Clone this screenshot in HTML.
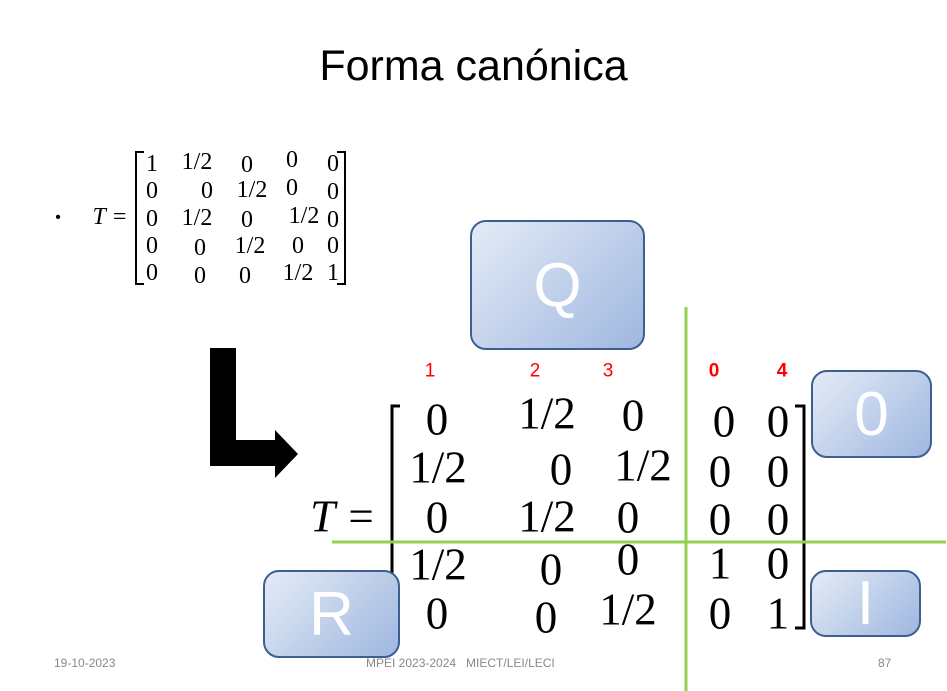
<!DOCTYPE html>
<html><head><meta charset="utf-8"><style>
body{margin:0;width:947px;height:691px;position:relative;background:#fff;overflow:hidden;font-family:"Liberation Sans",sans-serif}
.a{position:absolute}
.c{position:absolute;transform:translate(-50%,-50%);white-space:nowrap;line-height:1}
.s{font-family:"Liberation Serif",serif;font-size:24px}
.b{font-family:"Liberation Serif",serif;font-size:45px}
.r{font-size:19px;color:#f00}
.box{position:absolute;border:2px solid #3d5f8f;border-radius:16px;background:linear-gradient(135deg,#e4ebf6,#9fb7e0);color:#fff;font-size:62px;display:flex;align-items:center;justify-content:center}
.f{position:absolute;font-size:12px;color:#888;top:656px}
</style></head><body>
<div class="a" style="left:0;width:947px;top:42px;text-align:center;font-size:43px;color:#000">Forma canónica</div>
<div class="c" style="left:58px;top:218px;font-size:16px">•</div>
<div class="c s" style="left:110px;top:217px;font-style:italic">T =</div>
<svg class="a" style="left:0;top:0" width="947" height="691">
<path d="M144 152 H136 V284 H144" fill="none" stroke="#000" stroke-width="2"/>
<path d="M337 152 H345 V284 H337" fill="none" stroke="#000" stroke-width="2"/>
<path d="M210 348 H236 V440 H275 V430 L298 454 L275 478 V466 H210 Z" fill="#000"/>
<path d="M400 406 H392 V628 H400" fill="none" stroke="#000" stroke-width="3"/>
<path d="M795 406 H804 V628 H795" fill="none" stroke="#000" stroke-width="3"/>
<line x1="686" y1="307" x2="686" y2="691" stroke="#92d050" stroke-width="3"/>
<line x1="332" y1="542" x2="946" y2="542" stroke="#92d050" stroke-width="3"/>
</svg>
<div id="m"></div>
<div class="c b" style="left:343px;top:517px;font-style:italic">T =</div>
<div class="c r" style="left:430px;top:371px">1</div>
<div class="c r" style="left:535px;top:371px">2</div>
<div class="c r" style="left:608px;top:371px">3</div>
<div class="c r" style="left:714px;top:371px;font-weight:bold">0</div>
<div class="c r" style="left:782px;top:371px;font-weight:bold">4</div>
<div class="box" style="left:470px;top:220px;width:171px;height:126px">Q</div>
<div class="box" style="left:811px;top:370px;width:117px;height:84px">0</div>
<div class="box" style="left:263px;top:570px;width:133px;height:84px">R</div>
<div class="box" style="left:810px;top:570px;width:107px;height:63px">I</div>
<div class="f" style="left:54px">19-10-2023</div>
<div class="f" style="left:366px">MPEI 2023-2024 &nbsp;&nbsp;MIECT/LEI/LECI</div>
<div class="f" style="left:878px">87</div>
<script>
const small=[["1","1/2","0","0","0"],["0","0","1/2","0","0"],["0","1/2","0","1/2","0"],["0","0","1/2","0","0"],["0","0","0","1/2","1"]];
const smallX=[[152,197,247,292,333],[152,207,252,292,333],[152,197,247,304,333],[152,200,250,298,333],[152,200,245,298,333]];
const smallY=[[164,162,165,160,164],[191,191,190,188,192],[219,218,220,216,220],[246,248,246,246,246],[273,276,276,273,273]];
const big=[["0","1/2","0","0","0"],["1/2","0","1/2","0","0"],["0","1/2","0","0","0"],["1/2","0","0","1","0"],["0","0","1/2","0","1"]];
const bigX=[[437,547,633,724,778],[438,561,643,720,778],[437,547,628,720,778],[438,551,628,720,778],[437,546,628,720,778]];
const bigY=[[420,414,416,422,422],[468,470,466,472,472],[518,517,518,520,520],[565,570,560,564,564],[614,618,610,614,614]];
const m=document.getElementById('m');
function put(v,x,y,cls,n){const d=document.createElement('div');d.className='c '+cls;d.textContent=v;d.style.left=x+'px';d.style.top=y+'px';


m.appendChild(d);}
small.forEach((r,i)=>r.forEach((v,j)=>put(v,smallX[i][j],smallY[i][j],'s','small-matrix-cell')));
big.forEach((r,i)=>r.forEach((v,j)=>put(v,bigX[i][j],bigY[i][j],'b','canonical-matrix-cell')));
</script>
</body></html>
